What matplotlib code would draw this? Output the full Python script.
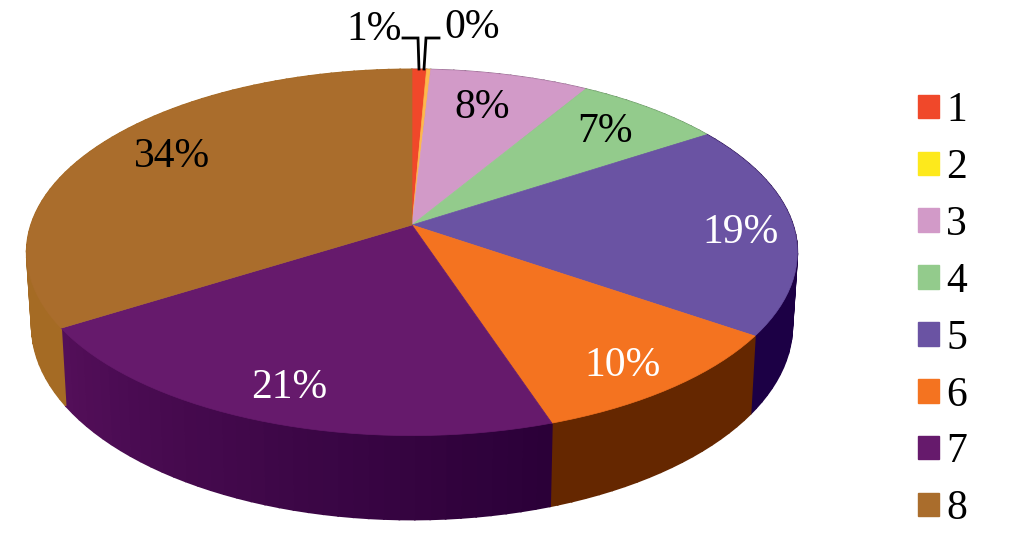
import numpy as np
import matplotlib
matplotlib.use('Agg')
import matplotlib.pyplot as plt
from matplotlib.patches import Patch

categories = ['1', '2', '3', '4', '5', '6', '7', '8']
values = [0.7, 0.2, 7.7, 7.2, 18.8, 10.3, 21.2, 33.9]
top_colors = ['#f0482a', '#fdb84e', '#d29ac8', '#93cb8c', '#6a53a3', '#f47320', '#661a6c', '#aa6d2c']
legend_colors = ['#f0482a', '#fde91c', '#d29ac8', '#93cb8c', '#6a53a3', '#f47320', '#661a6c', '#aa6d2c']
wall_left = ['#a03018', '#a08030', '#8a6084', '#5f8a5a', '#1c0045', '#652700', '#2b0038', '#a56b24']
wall_right = ['#a03018', '#a08030', '#8a6084', '#5f8a5a', '#1c0045', '#652700', '#540f5a', '#a56b24']

# label centres in pixels, same order as categories
label_x = [374, 472, 482, 605, 741, 622, 289, 172]
label_y = [30, 28, 108, 132, 233, 366, 388, 157]
label_colors = ['black', 'black', 'black', 'black', 'white', 'white', 'white', 'black']

# perspective circle -> picture
cx, cy = 412, 225
k = 0.15
rx, ry = 381, 179


def rim(theta):
    d = 1 + k * np.cos(theta)
    return cx + rx * np.sin(theta) / d, cy - ry * np.cos(theta) / d


def low_rim(theta):
    x, y = rim(theta)
    return cx + 0.987 * (x - cx), y + 71.4 / (1 + k * np.cos(theta))


fig = plt.figure(figsize=(10.1, 5.57), dpi=100)
ax = fig.add_axes([0, 0, 1, 1])
ax.set_xlim(0, 1010)
ax.set_ylim(557, 0)
ax.axis('off')

edges = np.concatenate([[0], np.cumsum(values)]) / np.sum(values) * 2 * np.pi

for i in range(len(values)):
    t = np.arange(edges[i], edges[i + 1], np.radians(2))
    t = np.append(t, edges[i + 1])

    # side wall, in strips so it can shade
    for j in range(len(t) - 1):
        a = t[j:j + 2]
        x1, y1 = rim(a)
        x2, y2 = low_rim(a[::-1])
        f = j / max(len(t) - 2, 1)
        c = (1 - f) * np.array(matplotlib.colors.to_rgb(wall_left[i])) + f * np.array(matplotlib.colors.to_rgb(wall_right[i]))
        ax.fill(np.r_[x1, x2], np.r_[y1, y2], color=c, lw=1.2, zorder=1 + i * 0.01)

    # top face
    x, y = rim(t)
    ax.fill(np.r_[cx, x], np.r_[cy, y], color=top_colors[i], lw=0.5, zorder=3)

    ax.text(label_x[i], label_y[i], '%d%%' % round(values[i]), color=label_colors[i],
            ha='center', va='center', fontsize=30, family='Liberation Serif', zorder=5)

# leaders for the two small slices
ax.plot([403, 418, 419], [38, 38, 69], color='black', lw=2, zorder=4, solid_joinstyle='miter')
ax.plot([439, 426, 424], [38, 38, 69], color='black', lw=2, zorder=4, solid_joinstyle='miter')

handles = [Patch(facecolor=c, edgecolor=c, label=n) for c, n in zip(legend_colors, categories)]
leg = ax.legend(handles=handles, loc='upper left', bbox_to_anchor=(0.909, 0.835), frameon=False,
                prop={'family': 'Liberation Serif', 'size': 30}, handlelength=0.5, handleheight=0.5,
                handletextpad=0.18, labelspacing=0.44, borderpad=0, borderaxespad=0)

fig.savefig('out.png', dpi=100)
